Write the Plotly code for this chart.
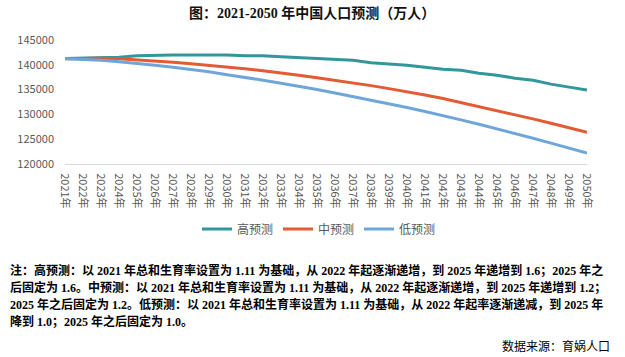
import plotly.graph_objects as go

years = [f"{y}年" for y in range(2021, 2051)]

high = [141260, 141300, 141400, 141500, 141800, 141950, 142000, 142000, 142000, 142000,
        141800, 141800, 141600, 141450, 141300, 141150, 140900, 140400, 140200, 139900,
        139500, 139100, 138900, 138300, 137900, 137300, 136900, 136100, 135500, 134900]
mid = [141200, 141260, 141300, 141200, 141000, 140800, 140500, 140200, 139900, 139600,
       139200, 138800, 138400, 137900, 137400, 136900, 136400, 135800, 135200, 134600,
       133900, 133200, 132400, 131600, 130700, 129900, 129100, 128200, 127300, 126400]
low = [141200, 141100, 140900, 140600, 140300, 139900, 139500, 139100, 138600, 138000,
       137500, 136900, 136300, 135700, 135000, 134300, 133600, 132900, 132200, 131400,
       130600, 129800, 128900, 128000, 127100, 126200, 125200, 124200, 123200, 122200]

series_names = ["高预测", "中预测", "低预测"]
colors = ["#31979A", "#E35A33", "#6FA6DA"]

title_text = "图：2021-2050 年中国人口预测（万人）"
note_lines = [
    "注：高预测：以 2021 年总和生育率设置为 1.11 为基础，从 2022 年起逐渐递增，到 2025 年递增到 1.6；2025 年之",
    "后固定为 1.6。中预测：以 2021 年总和生育率设置为 1.11 为基础，从 2022 年起逐渐递增，到 2025 年递增到 1.2；",
    "2025 年之后固定为 1.2。低预测：以 2021 年总和生育率设置为 1.11 为基础，从 2022 年起率逐渐递减，到 2025 年",
    "降到 1.0；2025 年之后固定为 1.0。",
]
source_text = "数据来源：育娲人口"

W, H = 625, 357
PL, PR, PT, PB = 65, 587, 40, 164
PW, PHt = PR - PL, PB - PT


def px_x(x):
    return (x - PL) / PW


def px_y(y):
    return (PB - y) / PHt


fig = go.Figure()
for name, vals, c in zip(series_names, [high, mid, low], colors):
    fig.add_trace(go.Scatter(x=years, y=vals, name=name, mode="lines",
                             line=dict(color=c, width=3)))

serif = "Liberation Serif, Noto Sans CJK SC, sans-serif"
fig.update_layout(
    width=W, height=H,
    margin=dict(l=PL, r=W - PR, t=PT, b=H - PB, autoexpand=False),
    paper_bgcolor="white", plot_bgcolor="white",
    showlegend=True,
    legend=dict(orientation="h", x=px_x(319), xanchor="center", y=px_y(229), yanchor="middle",
                font=dict(family="Noto Sans CJK SC", size=12, color="#595959"),
                itemwidth=30, tracegroupgap=0),
    annotations=[
        dict(text="<b>" + title_text + "</b>", xref="paper", yref="paper",
             x=px_x(312), y=px_y(13), xanchor="center", yanchor="middle", showarrow=False,
             font=dict(family=serif, size=14, color="#111111")),
    ],
)

fig.update_xaxes(type="category", showgrid=False, showline=True, linecolor="#D9D9D9",
                 linewidth=1, ticks="", tickangle=90, ticklabelstandoff=6,
                 tickfont=dict(family="Noto Sans CJK SC", size=11, color="#595959"))
fig.update_yaxes(range=[120000, 145000], tickvals=[120000, 125000, 130000, 135000, 140000, 145000],
                 tickformat="d", showgrid=False, zeroline=False, showline=False, ticks="",
                 ticklabelstandoff=10,
                 tickfont=dict(family="Noto Sans CJK SC", size=11, color="#595959"))

line_ys = [270, 287, 304, 321]
for txt, yy in zip(note_lines, line_ys):
    fig.add_annotation(text="<b>" + txt + "</b>", xref="paper", yref="paper",
                       x=px_x(8), y=px_y(yy), xanchor="left", yanchor="middle",
                       showarrow=False, align="left",
                       font=dict(family=serif, size=12, color="#000000"))
fig.add_annotation(text=source_text, xref="paper", yref="paper",
                   x=px_x(612), y=px_y(345), xanchor="right", yanchor="middle",
                   showarrow=False, font=dict(family="Noto Sans CJK SC", size=12, color="#000000"))

fig.write_html("out.html", config={"displayModeBar": False},
               post_script="document.body.style.margin='0';document.body.style.overflow='hidden';")
